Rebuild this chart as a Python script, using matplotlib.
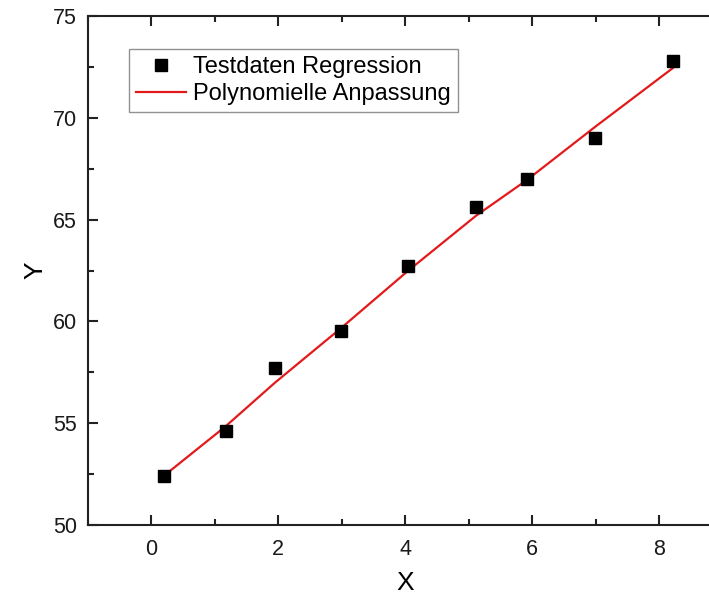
import numpy as np
import matplotlib
matplotlib.use("Agg")
import matplotlib.pyplot as plt
from matplotlib.ticker import MultipleLocator

# measured test data
x_data = [0.19, 1.17, 1.95, 2.98, 4.05, 5.12, 5.92, 6.99, 8.22]
y_data = [52.4, 54.6, 57.7, 59.55, 62.7, 65.6, 67.0, 69.0, 72.8]

# polynomial fit line at the same x values
fit_y = [52.4, 54.85, 57.0, 59.65, 62.5, 65.2, 66.95, 69.55, 72.45]

plt.rcParams["font.family"] = ["Liberation Sans", "DejaVu Sans"]

fig = plt.figure(figsize=(7.09, 5.96), dpi=100)
W, H = 709, 596
ax = fig.add_axes([88 / W, 1 - 525 / H, (722.5 - 88) / W, (525 - 16) / H])

ax.plot(x_data, y_data, linestyle="none", marker="s", markersize=8,
        color="black", label="Testdaten Regression", zorder=3)
ax.plot(x_data, fit_y, color="#e31a1c", linewidth=1.6,
        label="Polynomielle Anpassung", zorder=2)

ax.set_xlim(-1, 9)
ax.set_ylim(50, 75)
ax.xaxis.set_major_locator(MultipleLocator(2))
ax.xaxis.set_minor_locator(MultipleLocator(1))
ax.yaxis.set_major_locator(MultipleLocator(5))
ax.yaxis.set_minor_locator(MultipleLocator(2.5))

ax.tick_params(which="both", direction="in", top=True, right=False,
               width=1.5, color="#222222", labelsize=15.5, labelcolor="#1a1a1a")
ax.tick_params(which="major", length=7)
ax.tick_params(which="minor", length=4)
ax.tick_params(axis="x", pad=10)
ax.tick_params(axis="y", pad=8)

for side in ["left", "bottom", "top"]:
    ax.spines[side].set_linewidth(1.5)
    ax.spines[side].set_color("#222222")
ax.spines["right"].set_visible(False)

ax.set_xlabel("X", fontsize=19, labelpad=8)
ax.set_ylabel("Y", fontsize=19, labelpad=4)

leg = ax.legend(loc="upper left", bbox_to_anchor=(41 / 634.5, 1 - 33 / 509),
                fontsize=17, frameon=True, fancybox=False, borderaxespad=0,
                handlelength=2.1, handletextpad=0.3, borderpad=0.3,
                labelspacing=0.2)
leg.get_frame().set_edgecolor("#777777")
leg.get_frame().set_linewidth(1.0)

fig.savefig("out.png", dpi=100)
